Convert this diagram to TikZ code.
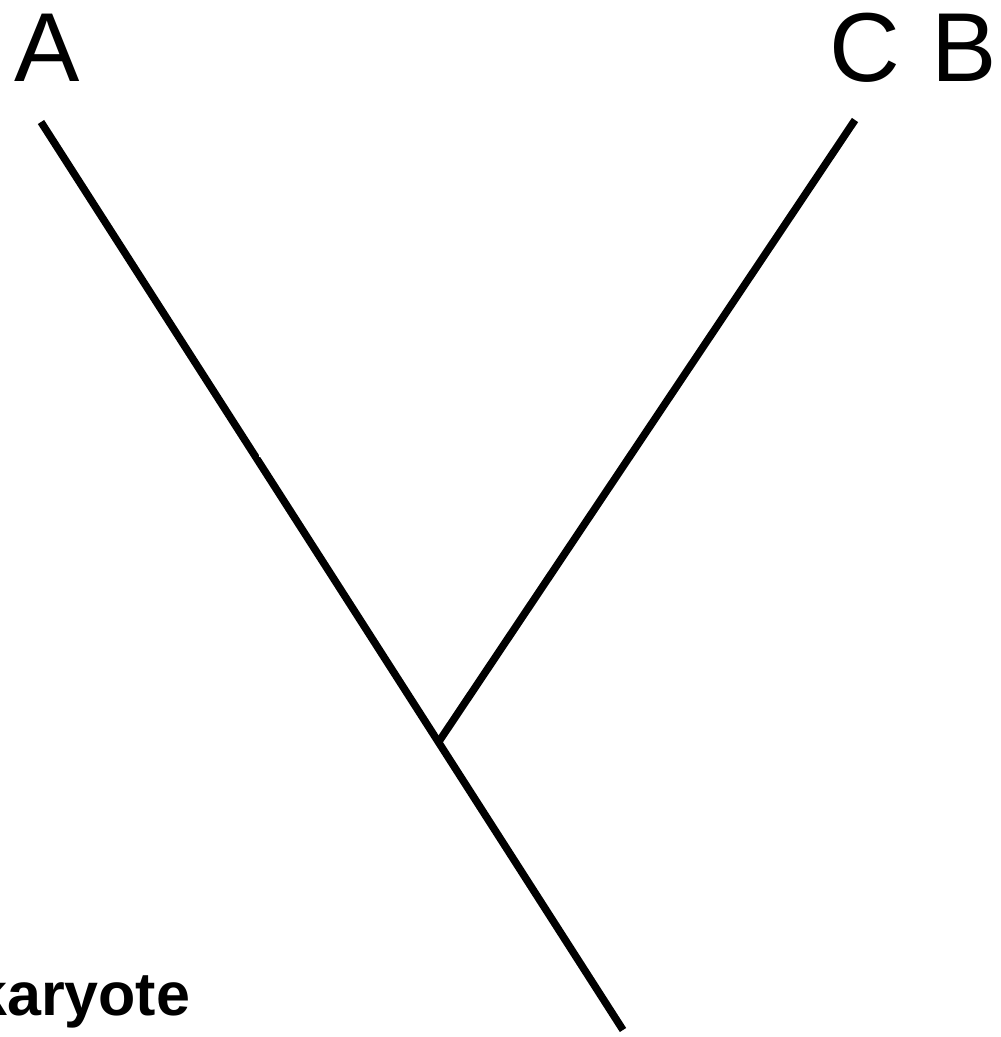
\documentclass[tikz,border=0pt]{standalone}
\usepackage{fontspec}
\setmainfont{Liberation Sans}
\usetikzlibrary{calc}
\begin{document}
\begin{tikzpicture}[x=1pt,y=-1pt,
  br/.style={line width=7.5pt},
  lbl/.style={inner sep=0pt, anchor=base west, font=\fontsize{98}{98}\selectfont},
  bold/.style={inner sep=0pt, anchor=base west, font=\fontsize{61}{61}\selectfont\bfseries}]
\useasboundingbox (0,0) rectangle (1001,1037);
\coordinate (tA) at (41,122);
\coordinate (root) at (623,1030);
\coordinate (j) at ($(tA)!0.683!(root)$);
\coordinate (tCB) at (855,120);
\draw[br] (tA) -- (root);
\draw[br] (j) -- (tCB);
\fill[white] (259,430) rectangle (290,457);
\node[lbl] (A) at (14,81) {A};
\node[lbl] (C) at (829,81) {C};
\node[lbl] (B) at (931,81) {B};
\node[bold] (K) at (-27,1015) {karyote};
\end{tikzpicture}
\end{document}
